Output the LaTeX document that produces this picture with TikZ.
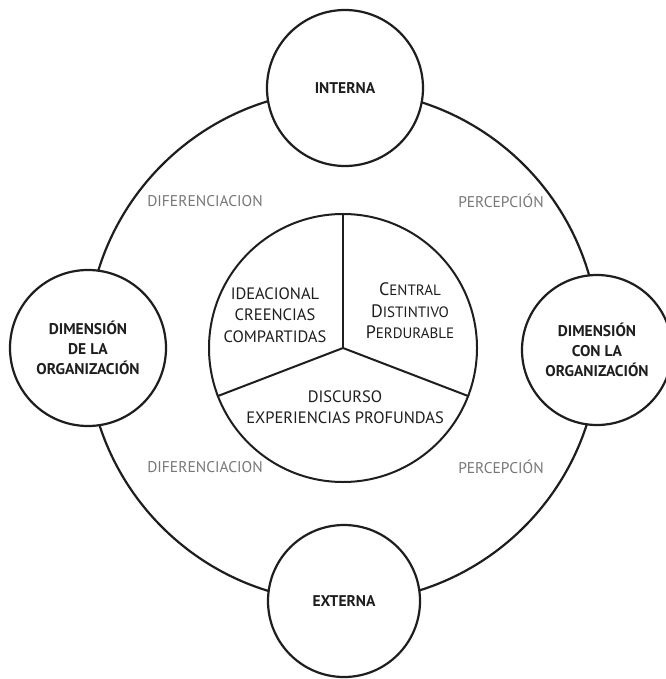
\documentclass[tikz,border=0pt]{standalone}
\usepackage{fontspec}
\setmainfont{PT Sans}
\definecolor{ink}{HTML}{1E1E1E}
\definecolor{soft}{HTML}{787878}
% fake small caps: first letter enlarged, the rest smaller capitals
\newcommand{\capfirst}[2]{{\fontsize{18}{21.5}\selectfont #1}{\fontsize{15}{21.5}\selectfont #2}}
\begin{document}
\begin{tikzpicture}[x=1pt,y=-1pt,
  ring/.style={draw=ink,line width=2.2pt,circle},
  pole/.style={ring,fill=white,minimum size=156pt,inner sep=0pt,
    align=center,text=ink,font=\fontsize{15.5}{20}\selectfont\bfseries},
  core/.style={draw=ink,line width=2pt,circle,minimum size=268pt,inner sep=0pt},
  split/.style={draw=ink,line width=2pt},
  inner/.style={align=center,text=ink,font=\fontsize{16.5}{21.5}\selectfont},
  tag/.style={text=soft,font=\fontsize{15.5}{17}\selectfont}]
\useasboundingbox (0,0) rectangle (665,679);
\fill[white] (0,0) rectangle (665,679);

% outer ring through the four poles
\node[ring,minimum size=512pt,inner sep=0pt] (orbit) at (343,346) {};

% four poles on the ring
\node[pole] (interna) at (345,88) {INTERNA};
\node[pole] (dimde) at (88,348) {DIMENSIÓN\\DE LA\\ORGANIZACIÓN};
\node[pole,minimum size=150pt] (dimcon) at (597,350) {DIMENSIÓN\\CON LA\\ORGANIZACIÓN};
\node[pole,minimum size=152pt] (externa) at (344,601) {EXTERNA};

% labels along the ring
\node[tag] (dif1) at (205,201) {DIFERENCIACION};
\node[tag] (per1) at (501,201) {PERCEPCIÓN};
\node[tag] (dif2) at (205,467) {DIFERENCIACION};
\node[tag] (per2) at (501,467) {PERCEPCIÓN};

% central core split in three sectors
\node[core] (core) at (343,348) {};
\draw[split] (core.center) -- (core.90);
\draw[split] (core.center) -- (core.-21);
\draw[split] (core.center) -- (core.201);

\node[inner] (ideacional) at (275,315) {IDEACIONAL\\CREENCIAS\\COMPARTIDAS};
\node[inner] (central) at (410,311) {\capfirst{C}{ENTRAL}\\\capfirst{D}{ISTINTIVO}\\\capfirst{P}{ERDURABLE}};
\node[inner] (discurso) at (345,407) {DISCURSO\\EXPERIENCIAS PROFUNDAS};
\end{tikzpicture}
\end{document}
